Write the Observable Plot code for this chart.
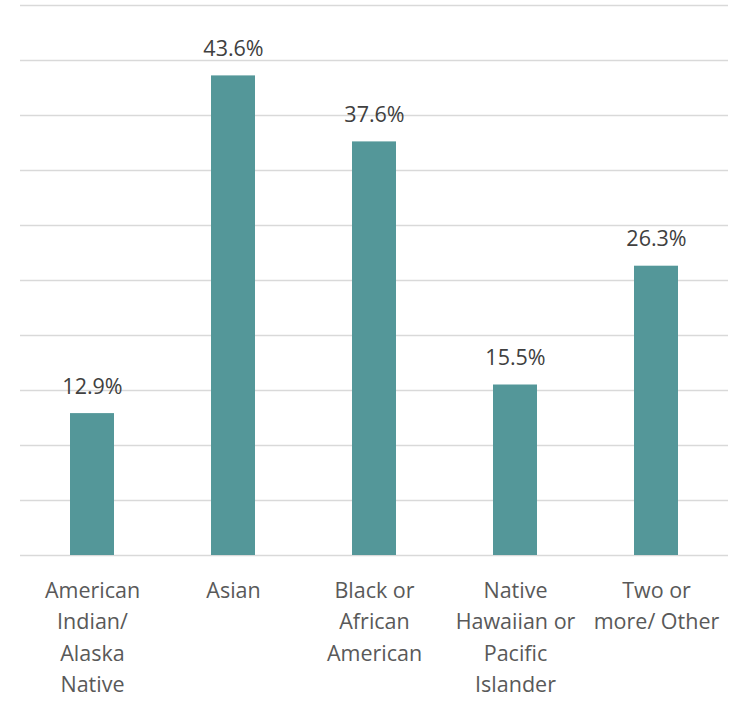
<!DOCTYPE html>
<html>
<head>
<meta charset="utf-8">
<script src="https://cdn.jsdelivr.net/npm/d3@7"></script>
<script src="https://cdn.jsdelivr.net/npm/@observablehq/plot@0.6"></script>
<style>
  html, body { margin: 0; padding: 0; background: #fff; }
  #chart svg { display: block; }
</style>
</head>
<body>
<div id="chart"></div>
<script>
const categories = [
  "American\nIndian/\nAlaska\nNative",
  "Asian",
  "Black or\nAfrican\nAmerican",
  "Native\nHawaiian or\nPacific\nIslander",
  "Two or\nmore/ Other"
];
const values = [12.9, 43.6, 37.6, 15.5, 26.3];
const valueLabels = ["12.9%", "43.6%", "37.6%", "15.5%", "26.3%"];
const gridTicks = [0, 5, 10, 15, 20, 25, 30, 35, 40, 45, 50];

const data = categories.map((c, i) => ({cat: c, value: values[i], label: valueLabels[i]}));

const font = "'Segoe UI', 'Open Sans', 'Noto Sans', sans-serif";

const chart = Plot.plot({
  width: 732,
  height: 703,
  marginLeft: 20,
  marginRight: 4,
  marginTop: 5,
  marginBottom: 148,
  style: {fontFamily: font, background: "#fff"},
  x: {domain: categories, paddingInner: 0.69, paddingOuter: 0.345, axis: null},
  y: {domain: [0, 50], axis: null},
  marks: [
    Plot.ruleY(gridTicks, {stroke: "#d9d9d9", strokeWidth: 1.5}),
    Plot.barY(data, {x: "cat", y: "value", fill: "#549799"}),
    Plot.text(data, {
      x: "cat", y: "value", text: "label",
      lineAnchor: "bottom", dy: -20,
      fontSize: 21.5, fill: "#404040"
    }),
    Plot.text(data, {
      x: "cat", y: () => 0, text: "cat",
      lineAnchor: "top", dy: 20, lineHeight: 1.46,
      fontSize: 21.5, fill: "#595959"
    })
  ]
});
document.getElementById("chart").appendChild(chart);
</script>
</body>
</html>
